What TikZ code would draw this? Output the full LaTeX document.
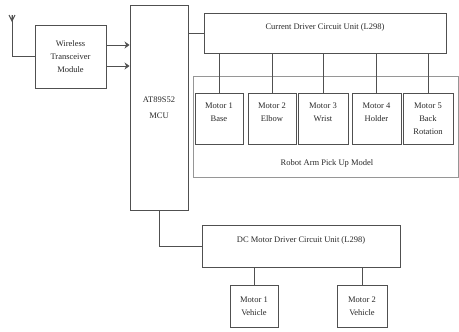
\documentclass[tikz,border=0pt]{standalone}
\usepackage{fontspec}
\setmainfont{Liberation Serif}
\usepackage{tikz}
\usetikzlibrary{arrows.meta,positioning,calc}
\usepackage{xcolor}
\definecolor{linegray}{RGB}{80,80,80}
\definecolor{softgray}{RGB}{150,150,150}
\definecolor{textgray}{RGB}{40,40,40}

\begin{document}
\begin{tikzpicture}[x=1pt, y=-1pt,
    every node/.style={font=\fontsize{8.5}{12.8}\selectfont, text=textgray},
    blk/.style={draw=linegray, line width=0.9pt, inner sep=0pt, align=center},
    motor/.style={blk, minimum width=48, minimum height=51},
    wire/.style={draw=linegray, line width=0.9pt},
    arr/.style={wire, -{Stealth[length=5pt, width=7pt]}}]
  \useasboundingbox (0,0) rectangle (459,332);
  % radio side
  \node[blk, minimum width=71, minimum height=63] (tx) at (70.5,56.5)
    {Wireless\\Transceiver\\Module};
  \coordinate (ant) at (12,15);
  \draw[wire] (ant) -- ++(0,6) -- ++(-3,-6) (ant) ++(0,6) -- ++(3,-6);
  \draw[wire] (ant) |- (tx.west);
  % controller
  \node[blk, minimum width=58, minimum height=205] (mcu) at (159,107.5)
    {AT89S52\\[3pt]MCU};
  \draw[arr] ([yshift=11.5pt]tx.east) -- ([yshift=11.5pt]tx.east -| mcu.west);
  \draw[arr] ([yshift=-9.5pt]tx.east) -- ([yshift=-9.5pt]tx.east -| mcu.west);
  % arm drive
  \node[blk, anchor=base, minimum width=242, text height=16pt, text depth=24pt]
    (drv) at (325,29) {Current Driver Circuit Unit (L298)};
  \draw[wire] (mcu.east |- drv.west) -- (drv.west);
  \node[draw=softgray, line width=0.7pt, minimum width=265, minimum height=101,
    inner sep=0pt] (arm) at (325.5,126.5) {};
  \node (armlbl) at (327,163) {Robot Arm Pick Up Model};
  \node[motor] (m1) at (219,118.5) {Motor 1\\Base\\\vphantom{R}};
  \node[motor] (m2) at (272,118.5) {Motor 2\\Elbow\\\vphantom{R}};
  \node[motor, minimum width=50] (m3) at (323,118.5) {Motor 3\\Wrist\\\vphantom{R}};
  \node[motor, minimum width=49] (m4) at (376.5,118.5) {Motor 4\\Holder\\\vphantom{R}};
  \node[motor, minimum width=50] (m5) at (428,118.5) {Motor 5\\Back\\Rotation};
  \foreach \m in {m1,m2,m3,m4,m5}
    \draw[wire] (\m.north |- drv.south) -- (\m.north);
  % vehicle drive
  \node[blk, anchor=base, minimum width=198, text height=17pt, text depth=25pt]
    (dc) at (301,242) {DC Motor Driver Circuit Unit (L298)};
  \draw[wire] (mcu.south) |- (dc.west);
  \node[blk, minimum width=48, minimum height=42] (v1) at (254,306) {Motor 1\\Vehicle};
  \node[blk, minimum width=50, minimum height=42] (v2) at (362,306) {Motor 2\\Vehicle};
  \draw[wire] (v1.north |- dc.south) -- (v1.north);
  \draw[wire] (v2.north |- dc.south) -- (v2.north);
\end{tikzpicture}
\end{document}
